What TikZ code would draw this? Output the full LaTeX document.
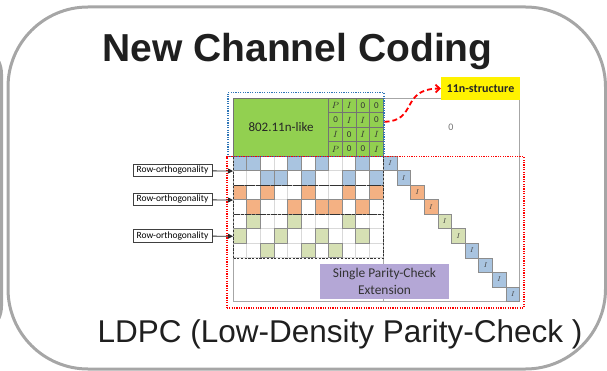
\documentclass[tikz,border=0pt]{standalone}
\usepackage{fontspec}
\setmainfont{Liberation Sans}
\newfontfamily\calibri{Carlito}
\usetikzlibrary{arrows.meta}

\definecolor{panelgray}{HTML}{A6A6A6}
\definecolor{basegreen}{HTML}{92D050}
\definecolor{cblue}{HTML}{A9C4E0}
\definecolor{corange}{HTML}{F4B183}
\definecolor{cgreen}{HTML}{D6E0B4}
\definecolor{spcpurple}{HTML}{B4A7D6}
\definecolor{dotblue}{HTML}{2E75B6}

\newcommand{\cw}{13.636}
\newcommand{\rh}{14.5}

\tikzset{
  panel/.style={draw=panelgray, line width=3pt, rounded corners=80pt},
  gridcell/.style={draw=black!15, line width=0.5pt},
  hcell/.style={draw=black!45, line width=0.6pt, fill=#1},
  pcell/.style={draw=black!55, fill=basegreen, line width=0.6pt, minimum width=\cw, minimum height=\rh,
    inner sep=0pt, anchor=north west, text=black!80, font=\calibri\fontsize{9}{9}\selectfont},
  diagcell/.style={draw=black!45, line width=0.6pt, minimum width=\cw, minimum height=\rh,
    inner sep=0pt, anchor=north west, text=black!75, font=\fontsize{7}{7}\selectfont},
  groupbox/.style={draw=black!80, line width=1.1pt, dash pattern=on 2.2pt off 1.5pt,
    minimum width=150, minimum height=#1, anchor=north west, inner sep=0pt},
  rowlabel/.style={draw=black!75, fill=white, line width=0.7pt, minimum width=79, minimum height=12.5,
    inner sep=0pt, font=\calibri\fontsize{9.5}{10}\selectfont},
  rowarrow/.style={black!85, line width=0.8pt, -{Triangle[length=5pt,width=5pt]}}
}

\begin{document}
\begin{tikzpicture}[x=1pt, y=-1pt]
  \useasboundingbox (0,0) rectangle (607,371);
  \clip (0,0) rectangle (607,371);

  \draw[panel, rounded corners=30pt] (-100,44) rectangle (1.5,336);
  \draw[panel] (8,7) rectangle (605.5,369);

  \node[anchor=base, font=\bfseries\fontsize{39}{44}\selectfont, text=black!88] (title) at (297.5,62) {New Channel Coding};
  \node[anchor=base, font=\fontsize{31.5}{36}\selectfont, text=black!88] (ldpc) at (340,342) {LDPC (Low-Density Parity-Check )};

  \foreach \r in {4,...,10}
    \foreach \k in {0,...,10}
      \draw[gridcell] ({233+\k*\cw},{98+\r*\rh}) rectangle +(\cw,\rh);
  \foreach \r/\cols/\c in {4/{0,1,4,6,9}/cblue, 5/{2,3,5,8,10}/cblue,
                           6/{0,2,5,8,10}/corange, 7/{1,4,6,7,9}/corange,
                           8/{1,4,8}/cgreen, 9/{0,3,6,9}/cgreen, 10/{2,5,7}/cgreen}
    \foreach \k in \cols
      \draw[hcell=\c] ({233+\k*\cw},{98+\r*\rh}) rectangle +(\cw,\rh);

  \draw[panelgray, line width=0.8pt] (233,98) rectangle (519.4,301);
  \draw[panelgray, line width=0.8pt] (383,98) -- (383,301);

  \node[fill=basegreen, draw=black!55, line width=0.6pt, minimum width=95.45, minimum height=58, inner sep=0pt,
    anchor=north west, font=\calibri\fontsize{13}{13}\selectfont, text=black!85] (base) at (233,98) {802.11n-like};
  \foreach \row [count=\r from 0] in {{$P$,$I$,0,0},{0,$I$,$I$,0},{$I$,0,$I$,$I$},{$P$,0,0,$I$}}
    \foreach \e [count=\k from 7] in \row
      \node[pcell] (p\r\k) at ({233+\k*\cw},{98+\r*\rh}) {\e};

  \foreach \i/\c in {0/cblue,1/cblue,2/corange,3/corange,4/cgreen,5/cgreen,6/cblue,7/cblue,8/cblue,9/cblue}
    \node[diagcell, fill=\c] (d\i) at ({233+(11+\i)*\cw},{98+(4+\i)*\rh}) {$I$};

  \node[font=\calibri\fontsize{10}{10}\selectfont, text=black!55] (zero) at (451,127) {0};

  \node[groupbox=29] (gb) at (233,156) {};
  \node[groupbox=29] (go) at (233,185) {};
  \node[groupbox=43.5] (gg) at (233,214) {};

  \node[draw=dotblue, line width=1.5pt, dash pattern=on 1.2pt off 1.2pt, minimum width=156, minimum height=64, inner sep=0pt,
    anchor=north west] (core) at (227,92) {};
  \node[draw=red, line width=1.5pt, dash pattern=on 1.2pt off 1.2pt, minimum width=297, minimum height=151, inner sep=0pt,
    anchor=north west] (ext) at (226,156) {};

  \node[fill=spcpurple, minimum width=129, minimum height=35, inner sep=0pt, align=center,
    font=\calibri\fontsize{13.4}{17}\selectfont, text=black!80] (spc) at (384.5,281.5) {Single Parity-Check\\Extension};

  \node[fill=yellow, minimum width=79, minimum height=23, inner sep=0pt,
    font=\calibri\bfseries\fontsize{12}{12}\selectfont, text=black!85] (struct) at (480.5,88.5) {11n-structure};
  \draw[red, line width=1.8pt, dash pattern=on 5pt off 3pt, -{Straight Barb[length=4pt,width=8pt]}]
    ([yshift=3]core.east) .. controls (418,121) and (400,89) .. (struct.west);

  \node[rowlabel] (ro1) at (172.5,170.5) {Row-orthogonality};
  \node[rowlabel] (ro2) at (172.5,199.5) {Row-orthogonality};
  \node[rowlabel] (ro3) at (172.5,235.75) {Row-orthogonality};
  \draw[rowarrow] (ro1) -- (gb.west);
  \draw[rowarrow] (ro2) -- (go.west);
  \draw[rowarrow] (ro3) -- (gg.west);
\end{tikzpicture}
\end{document}
